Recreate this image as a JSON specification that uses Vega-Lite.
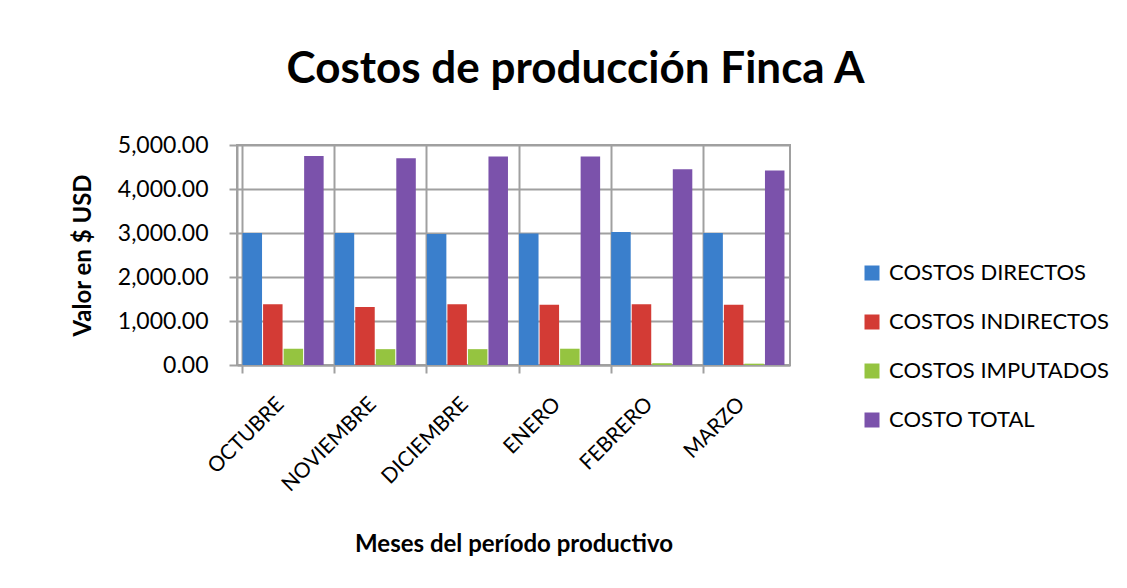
{
  "$schema": "https://vega.github.io/schema/vega-lite/v6.json",
  "autosize": "none",
  "width": 553,
  "height": 220,
  "padding": {"left": 237, "top": 145, "right": 337, "bottom": 223},
  "background": "white",
  "title": {
    "text": "Costos de producción Finca A",
    "font": "Lato",
    "fontSize": 44,
    "fontWeight": "bold",
    "color": "#000000",
    "anchor": "middle",
    "limit": 1000,
    "dx": 62,
    "offset": 42
  },
  "config": {
    "font": "Lato",
    "view": {"stroke": "#a0a0a0", "strokeWidth": 2}
  },
  "data": {
    "values": [
      {"mes": "OCTUBRE", "serie": "COSTOS DIRECTOS", "valor": 3000},
      {"mes": "OCTUBRE", "serie": "COSTOS INDIRECTOS", "valor": 1380},
      {"mes": "OCTUBRE", "serie": "COSTOS IMPUTADOS", "valor": 370},
      {"mes": "OCTUBRE", "serie": "COSTO TOTAL", "valor": 4750},
      {"mes": "NOVIEMBRE", "serie": "COSTOS DIRECTOS", "valor": 3000},
      {"mes": "NOVIEMBRE", "serie": "COSTOS INDIRECTOS", "valor": 1320},
      {"mes": "NOVIEMBRE", "serie": "COSTOS IMPUTADOS", "valor": 360},
      {"mes": "NOVIEMBRE", "serie": "COSTO TOTAL", "valor": 4700},
      {"mes": "DICIEMBRE", "serie": "COSTOS DIRECTOS", "valor": 2980},
      {"mes": "DICIEMBRE", "serie": "COSTOS INDIRECTOS", "valor": 1380},
      {"mes": "DICIEMBRE", "serie": "COSTOS IMPUTADOS", "valor": 360},
      {"mes": "DICIEMBRE", "serie": "COSTO TOTAL", "valor": 4740},
      {"mes": "ENERO", "serie": "COSTOS DIRECTOS", "valor": 2990},
      {"mes": "ENERO", "serie": "COSTOS INDIRECTOS", "valor": 1370},
      {"mes": "ENERO", "serie": "COSTOS IMPUTADOS", "valor": 370},
      {"mes": "ENERO", "serie": "COSTO TOTAL", "valor": 4740},
      {"mes": "FEBRERO", "serie": "COSTOS DIRECTOS", "valor": 3020},
      {"mes": "FEBRERO", "serie": "COSTOS INDIRECTOS", "valor": 1380},
      {"mes": "FEBRERO", "serie": "COSTOS IMPUTADOS", "valor": 40},
      {"mes": "FEBRERO", "serie": "COSTO TOTAL", "valor": 4450},
      {"mes": "MARZO", "serie": "COSTOS DIRECTOS", "valor": 3000},
      {"mes": "MARZO", "serie": "COSTOS INDIRECTOS", "valor": 1370},
      {"mes": "MARZO", "serie": "COSTOS IMPUTADOS", "valor": 30},
      {"mes": "MARZO", "serie": "COSTO TOTAL", "valor": 4420}
    ]
  },
  "mark": {"type": "bar", "stroke": null},
  "encoding": {
    "x": {
      "field": "mes",
      "type": "nominal",
      "sort": ["OCTUBRE", "NOVIEMBRE", "DICIEMBRE", "ENERO", "FEBRERO", "MARZO"],
      "scale": {"paddingInner": 0.12, "paddingOuter": 0.06},
      "axis": {
        "title": "Meses del período productivo",
        "titleFontSize": 24,
        "titleFontWeight": "bold",
        "titleColor": "#000000",
        "titlePadding": 38,
        "labelAngle": -45,
        "labelFontSize": 21,
        "labelColor": "#000000",
        "labelPadding": 20,
        "labelOffset": -10,
        "labelOverlap": false,
        "domainColor": "#a0a0a0",
        "domainWidth": 2,
        "tickColor": "#a0a0a0",
        "tickWidth": 2,
        "tickSize": 8,
        "bandPosition": 0,
        "grid": true,
        "gridColor": "#a0a0a0",
        "gridWidth": 2
      }
    },
    "xOffset": {
      "field": "serie",
      "type": "nominal",
      "sort": ["COSTOS DIRECTOS", "COSTOS INDIRECTOS", "COSTOS IMPUTADOS", "COSTO TOTAL"],
      "scale": {"paddingInner": 0.05}
    },
    "y": {
      "field": "valor",
      "type": "quantitative",
      "scale": {"domain": [0, 5000]},
      "axis": {
        "title": "Valor en $ USD",
        "titleFontSize": 24,
        "titleFontWeight": "bold",
        "titleColor": "#000000",
        "titlePadding": 22,
        "format": ",.2f",
        "values": [0, 1000, 2000, 3000, 4000, 5000],
        "labelOverlap": false,
        "labelFontSize": 23,
        "labelColor": "#000000",
        "labelPadding": 21,
        "domainColor": "#a0a0a0",
        "domainWidth": 2,
        "tickColor": "#a0a0a0",
        "tickWidth": 2,
        "tickSize": 8,
        "gridColor": "#a0a0a0",
        "gridWidth": 2
      }
    },
    "color": {
      "field": "serie",
      "type": "nominal",
      "sort": ["COSTOS DIRECTOS", "COSTOS INDIRECTOS", "COSTOS IMPUTADOS", "COSTO TOTAL"],
      "scale": {
        "domain": ["COSTOS DIRECTOS", "COSTOS INDIRECTOS", "COSTOS IMPUTADOS", "COSTO TOTAL"],
        "range": ["#3A7FCC", "#D33B35", "#95C440", "#7B52AB"]
      },
      "legend": {
        "title": null,
        "orient": "none",
        "legendX": 624,
        "legendY": 117,
        "symbolType": "square",
        "symbolSize": 225,
        "symbolStrokeWidth": 0,
        "labelFontSize": 22,
        "labelColor": "#000000",
        "labelLimit": 400,
        "rowPadding": 27,
        "labelOffset": 6
      }
    }
  }
}
